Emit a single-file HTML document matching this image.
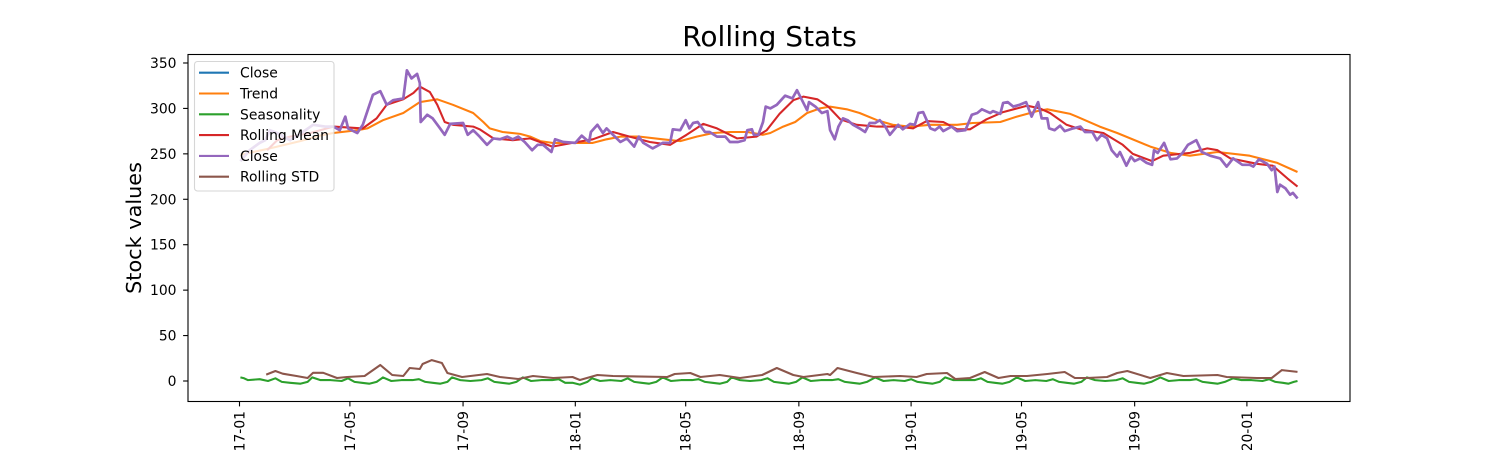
<!DOCTYPE html>
<html>
<head>
<meta charset="utf-8">
<title>Rolling Stats</title>
<style>
html,body{margin:0;padding:0;background:#fff;width:1500px;height:450px;overflow:hidden}
svg{display:block}
text{font-family:"DejaVu Sans","Liberation Sans",sans-serif;fill:#000}
</style>
</head>
<body>
<svg id="chart" xmlns="http://www.w3.org/2000/svg" width="1500" height="450" viewBox="0 0 1500 450">
  <rect x="0" y="0" width="1500" height="450" fill="#fff"/>
  <rect x="188" y="54.5" width="1162" height="347" fill="#fff"/>
  <g id="marks"></g>
  <g id="xaxis"></g>
  <g id="yaxis"></g>
  <rect x="188" y="54.5" width="1162" height="347" fill="none" stroke="#000" stroke-width="1.1"/>
  <text x="769.5" y="46" font-size="28" text-anchor="middle">Rolling Stats</text>
  <text transform="translate(141,228) rotate(-90)" font-size="20.8" text-anchor="middle">Stock values</text>
  <g id="legend"></g>
</svg>
<script>
const closeDays = [1,11,22,28,33,41,55,66,80,93,102,109,115,118,128,134,140,145,153,160,167,178,182,187,193,196,197,204,210,218,223,229,243,248,254,261,269,276,283,291,297,303,310,318,324,330,339,343,352,365,372,380,382,389,395,399,406,414,421,429,434,439,449,460,468,471,479,485,489,493,498,506,511,519,528,533,542,549,552,557,559,564,569,572,577,584,593,601,606,611,617,619,626,633,639,642,647,651,656,661,667,674,680,685,691,696,702,707,716,721,729,734,738,743,751,756,761,765,774,780,789,796,802,807,816,819,827,830,835,841,848,855,861,868,872,878,880,886,892,897,906,914,919,927,932,937,943,948,954,957,964,969,973,979,986,992,994,998,1005,1012,1019,1025,1031,1040,1046,1055,1066,1073,1080,1090,1098,1102,1108,1117,1122,1125,1128,1131,1137,1142,1145,1150];
const closeValues = [242,254,262,265,276,273,265,272,282,280,280,276,291,278,273,282,300,315,319,304,309,311,342,333,338,328,285,293,289,278,271,283,284,271,276,269,260,267,266,269,266,269,263,254,260,260,252,266,263,262,270,263,274,282,273,278,271,263,267,258,269,262,256,262,262,277,276,287,278,284,285,274,274,269,269,263,263,265,276,277,271,271,285,302,300,304,314,311,320,310,298,307,302,295,297,276,266,280,289,287,282,278,274,284,284,287,280,271,282,277,283,282,295,296,278,276,280,275,280,275,276,293,295,299,295,297,294,306,307,302,304,307,291,307,289,289,278,276,281,275,278,280,274,274,265,271,267,254,247,252,237,247,242,245,240,238,254,251,262,244,245,251,260,265,252,248,245,236,245,238,238,236,244,239,232,236,208,216,212,205,207,201];

const trendDays = [1,33,66,87,102,128,139,156,178,196,215,232,254,265,272,286,305,316,327,340,362,384,399,414,435,460,479,497,515,533,552,569,577,591,604,617,631,642,660,674,693,710,729,751,780,797,827,845,867,878,903,910,935,954,990,1012,1033,1063,1098,1128,1150];
const trendValues = [249,256,264,270,273,276,278,287,295,307,310,304,295,285,278,274,272,269,264,262,262,262,266,269,269,266,264,269,273,274,274,271,273,280,285,295,300,302,299,295,287,282,280,282,282,284,285,291,297,299,294,291,280,273,258,251,248,252,248,240,230];

const seasonDays = [1,5,9,22,31,39,46,55,66,74,
79,88,99,111,118,125,133,141,149,
156,165,176,188,195,202,210,218,226,
231,240,251,263,270,277,285,293,301,
308,317,328,340,347,354,362,370,378,
383,392,403,415,422,429,437,445,453,
460,469,480,492,499,506,514,522,530,
535,544,555,567,574,581,589,597,605,
612,621,632,644,651,658,666,674,682,
691,700,711,723,730,737,745,753,761,
767,776,787,799,806,813,821,829,837,
845,854,865,877,884,891,899,907,915,
921,930,941,953,960,967,975,983,991,
1001,1010,1021,1033,1040,1047,1055,1063,1071,
1080,1089,1100,1112,1119,1126,1134,1140,1146,1150];
const seasonValues = [4,3,1,2,0,3,-1,-2,-3,-1,
4,1,1,0,3,-1,-2,-3,-1,
4,0,1,1,2,-1,-2,-3,-1,
4,1,0,1,3,-1,-2,-3,-1,
4,0,1,1,2,-2,-2,-4,-1,
3,0,1,0,3,-1,-2,-3,-1,
4,0,1,1,2,-1,-2,-3,-1,
4,1,0,1,3,-1,-2,-3,-1,
4,0,1,1,2,-1,-2,-3,-1,
4,0,1,0,2,-1,-2,-3,-1,
4,1,1,1,3,-1,-2,-3,-1,
4,0,1,0,2,-1,-2,-3,-1,
4,1,0,1,3,-1,-2,-3,-1,
4,0,1,1,2,-1,-2,-3,-1,
3,1,1,0,2,-1,-2,-3,-1,0];

const meanDays = [30,41,55,77,102,134,149,160,178,189,196,207,215,223,232,254,261,276,297,316,340,362,384,406,424,446,468,486,504,519,541,562,573,587,602,613,628,640,653,671,693,715,732,747,765,780,794,812,830,856,870,881,899,914,939,960,971,992,1004,1033,1052,1063,1077,1106,1123,1139,1150];
const meanValues = [254,265,269,273,280,278,289,304,310,317,324,318,304,285,282,280,277,267,265,267,258,262,266,274,269,263,260,271,283,278,267,269,276,294,309,313,310,302,288,282,280,280,278,286,285,277,277,288,296,303,300,295,282,277,273,260,250,242,248,251,256,254,245,239,237,223,214];

const stdDays = [29,39,47,62,74,80,91,106,117,136,153,166,178,185,196,199,209,220,226,242,269,283,303,319,341,362,370,389,406,465,473,490,501,522,544,568,584,602,613,639,642,650,671,689,718,736,747,769,778,794,810,825,838,856,878,897,908,921,943,954,965,990,1008,1026,1063,1073,1106,1122,1133,1150];
const stdValues = [7,11,8,5.5,3.3,9,9,3.3,4.4,5.5,17.6,6.6,5.5,14.3,13.2,18.7,23,19.8,8.8,4.4,7.7,4.4,2.2,5.5,3.3,4.4,1.1,6.6,5.5,4.4,7.7,8.8,4.4,6.6,3.3,6.6,14.3,6.6,4.4,7.7,6.6,14.3,8.8,4.4,5.5,4.4,7.7,8.8,2.2,3.3,9.9,3.3,5.5,5.5,7.7,9.9,3.3,3.3,4.4,8.8,11,3.3,8.8,5.5,6.6,4.4,3.3,3.3,12,10];

const xTickLabels = ["17-01","17-05","17-09","18-01","18-05","18-09","19-01","19-05","19-09","20-01"];
const xTickDays = [0,120,243,365,485,608,730,850,973,1095];
const yTickValues = [0,50,100,150,200,250,300,350];
const legendLabels = ["Close","Trend","Seasonality","Rolling Mean","Close","Rolling STD"];

const NS = 'http://www.w3.org/2000/svg';
function xScale(day){ return 239.5 + day * 0.92; }
function yScale(v){ return 381 - v * 0.9086; }
function node(tag, parent){
  const el = document.createElementNS(NS, tag);
  parent.appendChild(el);
  return el;
}
function drawLine(days, values, color, name, width){
  const p = node('polyline', document.getElementById('marks'));
  
  
  p.setAttribute('fill', 'none');
  p.setAttribute('stroke', color);
  p.setAttribute('stroke-width', width);
  p.setAttribute('stroke-linejoin', 'round');
  p.setAttribute('points', days.map(function(d, i){
    return xScale(d).toFixed(1) + ',' + yScale(values[i]).toFixed(1);
  }).join(' '));
}
drawLine(closeDays, closeValues, '#1f77b4', 'close-line', 2.08);
drawLine(trendDays, trendValues, '#ff7f0e', 'trend-line', 2.08);
drawLine(seasonDays, seasonValues, '#2ca02c', 'seasonality-line', 2.08);
drawLine(meanDays, meanValues, '#d62728', 'rolling-mean-line', 2.08);
drawLine(closeDays, closeValues, '#9467bd', 'close-line-overlay', 2.7);
drawLine(stdDays, stdValues, '#8c564b', 'rolling-std-line', 2.08);

const xAxis = document.getElementById('xaxis');
xTickDays.forEach(function(d, i){
  const x = xScale(d);
  const tick = node('line', xAxis);
  
  
  tick.setAttribute('x1', x);
  tick.setAttribute('x2', x);
  tick.setAttribute('y1', 401.5);
  tick.setAttribute('y2', 406.4);
  tick.setAttribute('stroke', '#000');
  tick.setAttribute('stroke-width', '1.1');
  const label = node('text', xAxis);
  
  
  label.setAttribute('font-size', '13.9');
  label.setAttribute('text-anchor', 'end');
  label.setAttribute('transform', 'translate(' + (x + 5) + ',411) rotate(-90)');
  label.textContent = xTickLabels[i];
});

const yAxis = document.getElementById('yaxis');
yTickValues.forEach(function(v){
  const y = yScale(v);
  const tick = node('line', yAxis);
  
  
  tick.setAttribute('x1', 183.1);
  tick.setAttribute('x2', 188);
  tick.setAttribute('y1', y);
  tick.setAttribute('y2', y);
  tick.setAttribute('stroke', '#000');
  tick.setAttribute('stroke-width', '1.1');
  const label = node('text', yAxis);
  
  
  label.setAttribute('font-size', '13.9');
  label.setAttribute('text-anchor', 'end');
  label.setAttribute('x', 176.5);
  label.setAttribute('y', y + 5);
  label.textContent = String(v);
});

const legend = document.getElementById('legend');
const legendBox = node('rect', legend);


legendBox.setAttribute('x', 194.5);
legendBox.setAttribute('y', 61.5);
legendBox.setAttribute('width', 139.5);
legendBox.setAttribute('height', 129.5);
legendBox.setAttribute('rx', 3);
legendBox.setAttribute('fill', '#fff');
legendBox.setAttribute('fill-opacity', '0.8');
legendBox.setAttribute('stroke', '#ccc');
legendBox.setAttribute('stroke-opacity', '0.8');
legendBox.setAttribute('stroke-width', '1.1');
const legendColors = ['#1f77b4','#ff7f0e','#2ca02c','#d62728','#9467bd','#8c564b'];
legendLabels.forEach(function(t, i){
  const y = 72.7 + i * 20.8;
  const swatch = node('line', legend);
  
  
  swatch.setAttribute('x1', 199);
  swatch.setAttribute('x2', 229);
  swatch.setAttribute('y1', y);
  swatch.setAttribute('y2', y);
  swatch.setAttribute('stroke', legendColors[i]);
  swatch.setAttribute('stroke-width', '2.08');
  const label = node('text', legend);
  
  
  label.setAttribute('font-size', '13.9');
  label.setAttribute('x', 240);
  label.setAttribute('y', y + 5);
  label.textContent = t;
});
</script>
</body>
</html>
